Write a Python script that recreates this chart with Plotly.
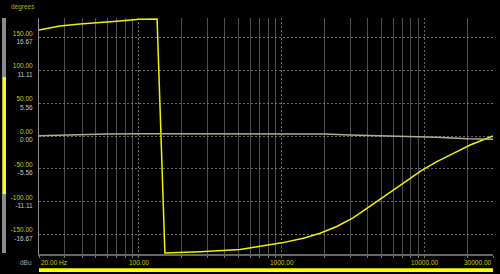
import math
import plotly.graph_objects as go

# ---- data ----
freq_phase = [20, 28, 38.7, 53.5, 73.8, 100, 134, 152, 179, 268, 510, 827, 1000,
              1414, 1851, 2422, 3166, 4144, 5424, 7087, 9276, 12139, 15860, 20760, 30000]
phase_deg = [161.7, 167.8, 170.8, 172.8, 175.4, 178.0, 178.5, -178.5, -178.0, -176.5,
             -173.0, -165.0, -163.0, -156.0, -148.4, -138.0, -124.6, -107.0, -90.0,
             -72.0, -54.0, -39.0, -26.4, -13.7, 0.0]

freq_mag = [20, 30, 40, 60, 100, 1000, 2000, 3000, 5000, 8000, 12000, 20000, 30000]
mag_dbu = [0.05, 0.2, 0.3, 0.35, 0.37, 0.37, 0.33, 0.18, 0.05, -0.02, -0.2, -0.45, -0.55]

y_ticks_deg = [180, 150, 100, 50, 0, -50, -100, -150]
y_labels_deg = ["", "150.00", "100.00", "50.00", "0.00", "-50.00", "-100.00", "-150.00"]
y_labels_dbu = ["", "16.67", "11.11", "5.56", "0.00", "-5.56", "-11.11", "-16.67"]

x_major = [20, 100, 1000, 10000, 30000]
x_labels = ["20.00 Hz", "100.00", "1000.00", "10000.00", "30000.00"]
x_label_anchor = ["left", "center", "center", "center", "right"]
x_minor = [30, 40, 50, 60, 70, 80, 90, 200, 300, 400, 500, 600, 700, 800, 900,
           2000, 3000, 4000, 5000, 6000, 7000, 8000, 9000, 20000]

YEL_TXT = "#cccc00"
GRAY_TXT = "#c8c8c8"
FONT = "Liberation Sans, Arial, sans-serif"
FS = 6.5

ticktext = [
    ("" if a == "" else
     f"<span style='color:{YEL_TXT}'>{a}</span><br><span style='color:{GRAY_TXT}'>{b}</span>")
    for a, b in zip(y_labels_deg, y_labels_dbu)
]

fig = go.Figure()
fig.add_trace(go.Scatter(x=freq_mag, y=mag_dbu, mode="lines", yaxis="y2",
                         line=dict(color="#b0ae92", width=1.5), hoverinfo="skip"))
fig.add_trace(go.Scatter(x=freq_phase, y=phase_deg, mode="lines",
                         line=dict(color="#f2f200", width=1.5), hoverinfo="skip"))

annotations = []
for v, t, a in zip(x_major, x_labels, x_label_anchor):
    annotations.append(dict(x=math.log10(v), xref="x", y=-0.034, yref="paper", text=t,
                            showarrow=False, xanchor=a, yanchor="middle",
                            font=dict(color=YEL_TXT, size=FS, family=FONT)))
annotations.append(dict(x=-0.036, xref="paper", y=1.047, yref="paper", text="degrees",
                        showarrow=False, xanchor="center", yanchor="middle",
                        font=dict(color="#b4b400", size=FS, family=FONT)))
annotations.append(dict(x=-0.011, xref="paper", y=-0.034, yref="paper", text="dBu",
                        showarrow=False, xanchor="right", yanchor="middle",
                        font=dict(color="#a8a8a8", size=FS, family=FONT)))

shapes = [
    # left level meter
    dict(type="rect", xref="paper", yref="paper", x0=-0.0815, x1=-0.0727,
         y0=0.004, y1=1.0, fillcolor="#8a8a8a", line=dict(width=0), layer="above"),
    dict(type="rect", xref="paper", yref="paper", x0=-0.080, x1=-0.0727,
         y0=0.254, y1=0.75, fillcolor="#ffff00", line=dict(width=0), layer="above"),
    # bottom bar
    dict(type="rect", xref="paper", yref="paper", x0=0, x1=1,
         y0=-0.0763, y1=-0.0606, fillcolor="#ffff00", line=dict(width=0), layer="above"),
]

fig.update_layout(
    width=500, height=274,
    margin=dict(l=39, r=7, t=18, b=20),
    paper_bgcolor="black", plot_bgcolor="black",
    showlegend=False,
    font=dict(family=FONT, size=FS, color=YEL_TXT),
    xaxis=dict(type="log", range=[math.log10(20), math.log10(30000)],
               tickvals=x_major, showticklabels=False,
               showgrid=True, gridcolor="#6a6a6a", griddash="2px,2px", gridwidth=1,
               ticks="outside", ticklen=2, tickcolor="#777777",
               showline=True, linecolor="#666666", linewidth=2,
               zeroline=False,
               minor=dict(tickvals=x_minor, showgrid=True, gridcolor="#4e4e4e",
                          griddash="solid", gridwidth=1, ticks="outside", ticklen=2,
                          tickcolor="#777777")),
    yaxis=dict(range=[-180, 180], tickvals=y_ticks_deg, ticktext=ticktext,
               showgrid=True, gridcolor="#6a6a6a", griddash="2px,2px", gridwidth=1,
               ticks="", ticklabelstandoff=4, zeroline=False,
               showline=True, linecolor="#8c8c8c", linewidth=1,
               tickfont=dict(size=FS, family=FONT)),
    yaxis2=dict(range=[-20, 20], overlaying="y", visible=False, showgrid=False),
    annotations=annotations,
    shapes=shapes,
)

fig.write_html("out.html")
